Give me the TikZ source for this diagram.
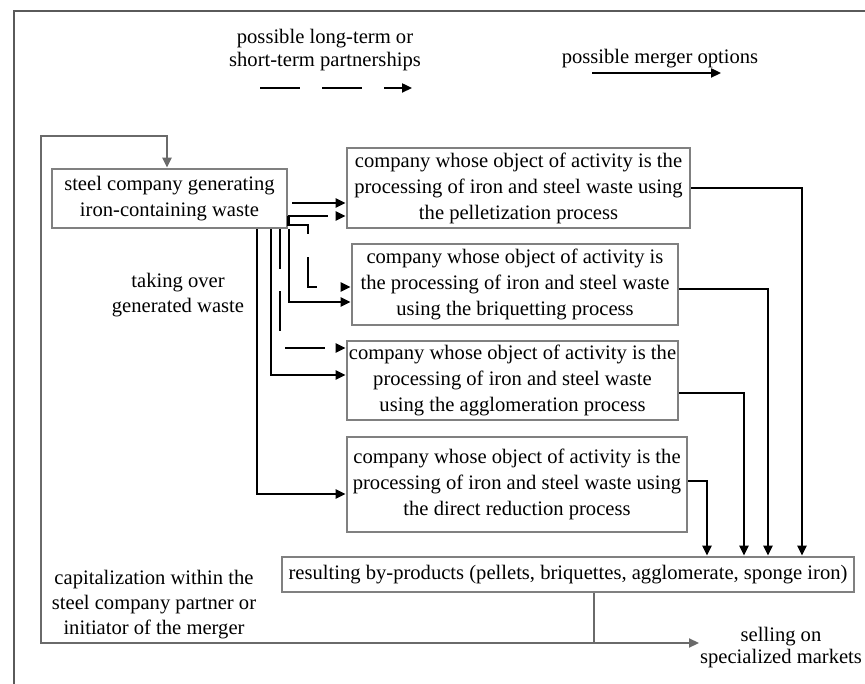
\documentclass[tikz,border=0pt]{standalone}
\usepackage{fontspec}
\setmainfont{Liberation Serif}
\usetikzlibrary{arrows.meta,calc}
\definecolor{boxgray}{HTML}{808080}
\definecolor{loopgray}{HTML}{6A6A6A}
\definecolor{framegray}{HTML}{5A5A5A}
\begin{document}
\begin{tikzpicture}[x=1pt,y=-1pt,
  box/.style={draw=boxgray, line width=2.8pt, inner sep=0pt, align=center,
              font=\fontsize{20.6}{26}\selectfont},
  tip/.style={-{Triangle[length=10pt,width=9pt]}},
  merge/.style={draw=black, line width=2.3pt, tip},
  partner/.style={merge, dash pattern=on 40pt off 22pt},
  feed/.style={draw=loopgray, line width=2.2pt},
  label/.style={align=center, inner sep=0pt, font=\fontsize{20.6}{25}\selectfont}]

\useasboundingbox (0,0) rectangle (865,684);

% outer frame (top and left edges)
\draw[framegray, line width=2.2pt] (14,684) -- (14,11) -- (865,11);

% legend
\node[label, font=\fontsize{20.6}{23}\selectfont] (legA) at (325,50) {possible long-term or\\short-term partnerships};
\node[label] (legB) at (660,59) {possible merger options};
\coordinate (legA1) at (260,88);
\coordinate (legA2) at (412,88);
\coordinate (legB1) at (592,73);
\coordinate (legB2) at (721,73);
\draw[partner] (legA1) -- (legA2);
\draw[merge] (legB1) -- (legB2);

% boxes
\node[box, minimum width=235pt, minimum height=59pt] (steel) at (169.5,198.5)
  {steel company generating\\iron-containing waste};
\node[box, minimum width=343pt, minimum height=80pt] (p1) at (518.5,188)
  {company whose object of activity is the\\processing of iron and steel waste using\\the pelletization process};
\node[box, minimum width=326pt, minimum height=81pt] (p2) at (515,284.5)
  {company whose object of activity is\\the processing of iron and steel waste\\using the briquetting process};
\node[box, minimum width=331pt, minimum height=79pt] (p3) at (512.5,380.5)
  {company whose object of activity is the\\processing of iron and steel waste\\using the agglomeration process};
\node[box, minimum width=340pt, minimum height=95pt] (p4) at (517,484.5)
  {company whose object of activity is the\\processing of iron and steel waste using\\the direct reduction process};
\node[box, minimum width=572pt, minimum height=35pt] (byp) at (568,574.5)
  {resulting by-products (pellets, briquettes, agglomerate, sponge iron)};

% labels
\node[label] (take) at (178,295) {taking over\\generated waste};
\node[label] (cap) at (154,605) {capitalization within the\\steel company partner or\\initiator of the merger};
\node[label, font=\fontsize{20.6}{22}\selectfont] (sell) at (781,648) {selling on\\specialized markets};

% levels and trunks of the connectors
\coordinate (hA) at (0,203);
\coordinate (hB) at (0,216);
\coordinate (hC) at (0,287);
\coordinate (hD) at (0,302);
\coordinate (hE) at (0,348);
\coordinate (hF) at (0,375);
\coordinate (hG) at (0,494);
\coordinate (vA) at (257,0);
\coordinate (vB) at (271,0);
\coordinate (vC) at (280,0);
\coordinate (vD) at (289,0);
\coordinate (vE) at (308,0);

% steel company -> processing companies
\draw[merge, shorten <=4pt] (steel.east |- hA) -- (p1.west |- hA);
\draw[partner] (steel.east |- hB) -- (p1.west |- hB);
\draw[merge, dash pattern=on 38pt off 23pt on 39pt off 40pt]
  (steel.east |- hB) -- ++(0,9) -| (vE |- hC) -- (p2.west |- hC);
\draw[merge] (vD |- steel.south) |- (p2.west |- hD);
\draw[partner] (vC |- steel.south) |- (p3.west |- hE);
\draw[merge] (vB |- steel.south) |- (p3.west |- hF);
\draw[merge] (vA |- steel.south) |- (p4.west |- hG);

% processing companies -> by-products
\coordinate (rA) at (802,0);
\coordinate (rB) at (768,0);
\coordinate (rC) at (744,0);
\coordinate (rD) at (707,0);
\coordinate (hI) at (0,289);
\coordinate (hJ) at (0,393);
\coordinate (hK) at (0,481);
\draw[merge] (p1.east) -| (rA |- byp.north);
\draw[merge] (p2.east |- hI) -| (rB |- byp.north);
\draw[merge] (p3.east |- hJ) -| (rC |- byp.north);
\draw[merge] (p4.east |- hK) -| (rD |- byp.north);

% by-products: back to the steel company, or sold
\coordinate (xS) at (594,0);
\coordinate (hL) at (0,643);
\coordinate (lL) at (41,0);
\coordinate (lp) at (167,136);
\coordinate (sellend) at (699,643);
\draw[feed] (byp.south -| xS) -- (xS |- hL);
\draw[feed, tip] (xS |- hL) -- (lL |- hL) |- (lp) -- (lp |- steel.north);
\draw[feed, tip] (xS |- hL) -- (sellend);
\end{tikzpicture}
\end{document}
